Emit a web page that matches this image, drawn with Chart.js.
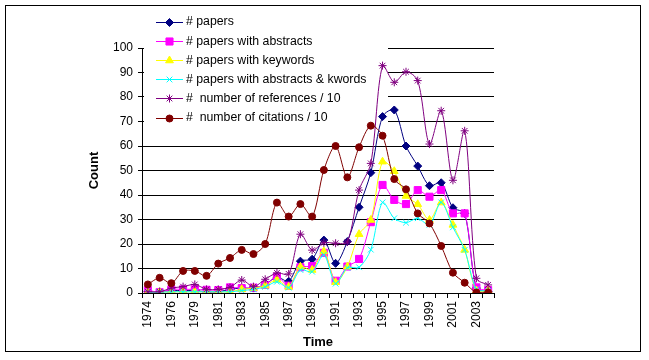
<!DOCTYPE html>
<html>
<head>
<meta charset="utf-8">
<script src="https://cdn.jsdelivr.net/npm/chart.js@4.4.0/dist/chart.umd.min.js"></script>
<style>
  html, body { margin: 0; padding: 0; background: #fff; }
</style>
</head>
<body>
<canvas id="chart" width="649" height="360"></canvas>
<script>
// categories (1978 is not in the source table)
const years = ['1974', '1975', '1976', '1977', '1979', '1980', '1981', '1982', '1983', '1984',
    '1985', '1986', '1987', '1988', '1989', '1990', '1991', '1992', '1993', '1994',
    '1995', '1996', '1997', '1998', '1999', '2000', '2001', '2002', '2003', '2004'];

const papers = [0.5, 0.5, 1, 1, 1, 0.5, 0.5, 1.5, 2, 2, 3.5, 6.5, 4.8, 13, 13.8, 21.6, 12.1, 21, 35, 49.1,
    72, 74.7, 60, 51.8, 43.8, 45, 34.8, 32.5, 2, 0.5];
const abstracts = [1.2, 0.3, 1.5, 1.5, 1.5, 1.3, 1.2, 2.3, 2, 2.2, 3.3, 6.7, 3, 10.5, 11, 16.4, 5, 10.8, 13.9, 28.9,
    44.1, 38, 36.3, 42, 39.3, 42, 32.5, 32.5, 2.3, 1.2];
const keywords = [0.3, 0.3, 0.5, 0.5, 0.5, 0.5, 0.5, 0.5, 1.5, 2, 3, 5.4, 2.5, 10.7, 9.4, 17, 4.4, 10.7, 24, 29.8,
    53.6, 49.7, 39.6, 36.2, 29.8, 36.9, 27.8, 17.6, 1, 1];
const absKwords = [0.3, 0.3, 0.5, 0.5, 0.5, 0.5, 0.5, 0.5, 1, 1.5, 2.5, 4.6, 2.2, 9.4, 8.7, 15.6, 3.8, 10.3, 10.5, 17.7,
    37, 30.5, 28.7, 30.5, 27.8, 37, 26.8, 17.6, 1.5, 1];
const references = [0.5, 0.5, 2, 2.6, 3.5, 1.5, 1.5, 2.3, 5.3, 2.6, 5.6, 8.2, 7.8, 24, 17.5, 20.5, 20.3, 20.8, 42, 52.9,
    92.8, 86, 90.3, 86.7, 60.8, 74.4, 46, 66.2, 6, 3.3];
const citations = [3.5, 6.2, 4, 9, 9, 7, 12, 14.3, 17.6, 15.9, 20, 36.9, 31.2, 36.3, 31.2, 50.2, 60, 47.2, 59.5, 68.3,
    64.2, 46.5, 42.3, 32.5, 28.4, 19.2, 8.3, 4.2, 0.2, 0.2];

const yTicks = [0, 10, 20, 30, 40, 50, 60, 70, 80, 90, 100];

const FONT = 'Arial, "Liberation Sans", sans-serif';

function series(label, data, color, style, radius, order) {
    return {
        label: label,
        data: data,
        borderColor: color,
        backgroundColor: color,
        pointBackgroundColor: color,
        pointBorderColor: color,
        pointStyle: style,
        pointRadius: radius,
        pointBorderWidth: 1,
        borderWidth: 1,
        tension: 0.3,
        order: order
    };
}

// legend box sits inside the plot, over the gridlines
const boxLegend = {
    id: 'boxLegend',
    beforeDatasetsDraw(chart) {
        const ctx = chart.ctx;
        ctx.save();
        ctx.fillStyle = '#fff';
        ctx.fillRect(144, 8, 244, 121);
        chart.data.datasets.forEach((ds, i) => {
            const y = 21.5 + i * 19.2;
            ctx.strokeStyle = ds.borderColor;
            ctx.lineWidth = 1;
            ctx.beginPath();
            ctx.moveTo(156, Math.round(y) + 0.5);
            ctx.lineTo(183, Math.round(y) + 0.5);
            ctx.stroke();
            ctx.fillStyle = ds.pointBackgroundColor;
            Chart.helpers.drawPoint(ctx, {
                pointStyle: ds.pointStyle, radius: ds.pointRadius, rotation: 0, borderWidth: 1
            }, 169.5, Math.round(y) + 0.5);
            ctx.fillStyle = '#000';
            ctx.font = '12.3px ' + FONT;
            ctx.textBaseline = 'middle';
            ctx.textAlign = 'left';
            ctx.fillText(ds.label, 186, y + 0.5);
        });
        ctx.restore();
    }
};

const frame = {
    id: 'frame',
    afterDraw(chart) {
        const ctx = chart.ctx;
        ctx.save();
        ctx.strokeStyle = '#000';
        ctx.lineWidth = 1;
        ctx.strokeRect(5.5, 5.5, 635, 346);
        ctx.restore();
    }
};

new Chart(document.getElementById('chart'), {
    type: 'line',
    data: {
        labels: years,
        datasets: [
            series('# papers', papers, '#000080', 'rectRot', 4, 5),
            series('# papers with abstracts', abstracts, '#FF00FF', 'rect', 5, 4),
            series('# papers with keywords', keywords, '#FFFF00', 'triangle', 4.5, 3),
            series('# papers with abstracts & kwords', absKwords, '#00FFFF', 'crossRot', 4, 2),
            series('#  number of references / 10', references, '#800080', 'star', 4, 1),
            series('#  number of citations / 10', citations, '#800000', 'circle', 3.5, 0)
        ]
    },
    options: {
        responsive: false,
        animation: false,
        devicePixelRatio: 1,
        layout: { padding: { left: 87, right: 155, top: 48, bottom: 10 } },
        plugins: {
            legend: { display: false },
            tooltip: { enabled: false }
        },
        scales: {
            x: {
                offset: true,
                grid: {
                    offset: true,
                    drawOnChartArea: false,
                    drawTicks: true,
                    tickLength: 5,
                    color: '#000'
                },
                border: { color: '#000', width: 1 },
                ticks: {
                    autoSkip: false,
                    maxRotation: 90,
                    minRotation: 90,
                    padding: 3,
                    color: '#000',
                    font: { family: FONT, size: 12 },
                    callback: function (value, index) {
                        return index % 2 === 0 ? this.getLabelForValue(value) : '';
                    }
                },
                title: {
                    display: true,
                    text: 'Time',
                    color: '#000',
                    font: { family: FONT, size: 13, weight: 'bold' },
                    padding: 0
                },
                afterFit: s => { s.height = 57; }
            },
            y: {
                min: 0,
                max: 100,
                afterBuildTicks: s => { s.ticks = yTicks.map(v => ({ value: v })); },
                grid: { color: '#000', tickLength: 4 },
                border: { color: '#000', width: 1 },
                ticks: {
                    padding: 5,
                    color: '#000',
                    font: { family: FONT, size: 12 }
                },
                title: {
                    display: true,
                    text: 'Count',
                    color: '#000',
                    font: { family: FONT, size: 13, weight: 'bold' },
                    padding: 0
                },
                afterFit: s => { s.width = 55; }
            }
        }
    },
    plugins: [boxLegend, frame]
});
</script>
</body>
</html>
